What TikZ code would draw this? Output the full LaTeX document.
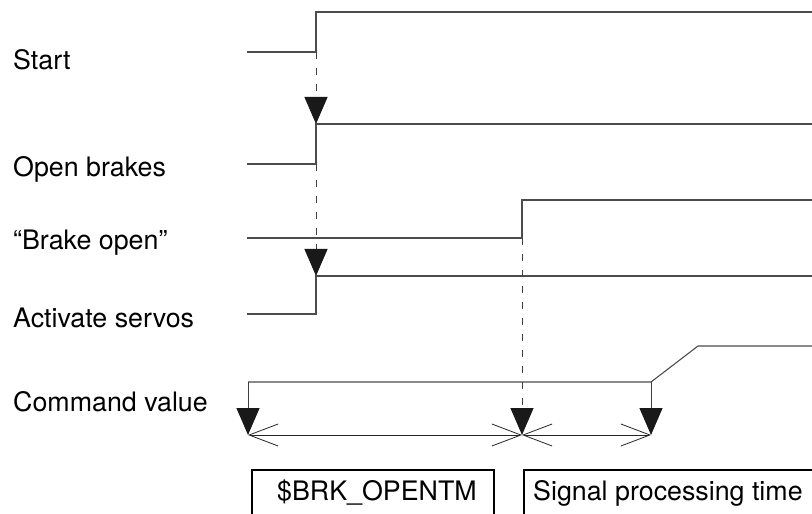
\documentclass[tikz,border=0pt]{standalone}
\usepackage{fontspec}
\setmainfont{TeX Gyre Heros}
\usetikzlibrary{arrows.meta}

\tikzset{
  sig/.style={line width=1.1bp, black!70},
  trig/.style={line width=1bp, black!75, dash pattern=on 7bp off 9bp,
    -{Triangle[width=23bp,length=27bp,color=black!90]}},
  cmd/.style={line width=1bp, black!75,
    -{Triangle[width=23bp,length=27bp,color=black!90]}},
  dimline/.style={line width=0.8bp, black!85,
    {Straight Barb[length=29bp,width=22bp]}-{Straight Barb[length=29bp,width=22bp]}},
  lbl/.style={anchor=base west, inner sep=0pt, font=\fontsize{26.8bp}{30bp}\selectfont},
  tbox/.style={line width=1.8bp, black}
}

\begin{document}
\begin{tikzpicture}[x=1bp, y=-1bp]
  \useasboundingbox (0,0) rectangle (812,514);
  \clip (0,0) rectangle (812,514);

  % Labels
  \node[lbl] (start) at (13,70) {Start};
  \node[lbl] (open) at (13,177) {Open brakes};
  \node[lbl] (isopen) at (13,250) {“Brake open”};
  \node[lbl] (servo) at (13,327) {Activate servos};
  \node[lbl] (command) at (13,411) {Command value};

  % Start
  \coordinate (s0) at (247,52);
  \coordinate (s1) at (316,52);
  \coordinate (s2) at (316,12);
  \coordinate (s3) at (812,12);
  \draw[sig] (s0) -- (s1) -- (s2) -- (s3);

  % Open brakes
  \coordinate (b0) at (247,164);
  \coordinate (b1) at (316,164);
  \coordinate (b2) at (316,124);
  \coordinate (b3) at (812,124);
  \draw[sig] (b0) -- (b1) -- (b2) -- (b3);

  % Brake open
  \coordinate (f0) at (247,238);
  \coordinate (f1) at (522,238);
  \coordinate (f2) at (522,200);
  \coordinate (f3) at (812,200);
  \draw[sig] (f0) -- (f1) -- (f2) -- (f3);

  % Activate servos
  \coordinate (v0) at (247,314);
  \coordinate (v1) at (316,314);
  \coordinate (v2) at (316,276);
  \coordinate (v3) at (812,276);
  \draw[sig] (v0) -- (v1) -- (v2) -- (v3);

  % Command value
  \coordinate (c0) at (248,382);
  \coordinate (c1) at (651,382);
  \coordinate (c2) at (698,346);
  \coordinate (c3) at (812,346);
  \draw[sig] (c0) -- (c1) -- (c2) -- (c3);

  % Triggers
  \coordinate (d0) at (248,435);
  \coordinate (d1) at (522,435);
  \coordinate (d2) at (651,435);
  \draw[trig] (s1) -- (b2);
  \draw[trig] (b1) -- (v2);
  \draw[trig] (f1) -- (d1);
  \draw[cmd] (c0) -- (d0);
  \draw[cmd] (c1) -- (d2);

  % Times
  \draw[dimline] (d0) -- (d1);
  \draw[dimline] (d1) -- (d2);

  \draw[tbox] (252,470) rectangle (494,540);
  \node[lbl] (brktm) at (277,500) {\$BRK\_OPENTM};
  \draw[tbox] (524,470) rectangle (830,540);
  \node[lbl] (sigtm) at (533,500) {Signal processing time};
\end{tikzpicture}
\end{document}
